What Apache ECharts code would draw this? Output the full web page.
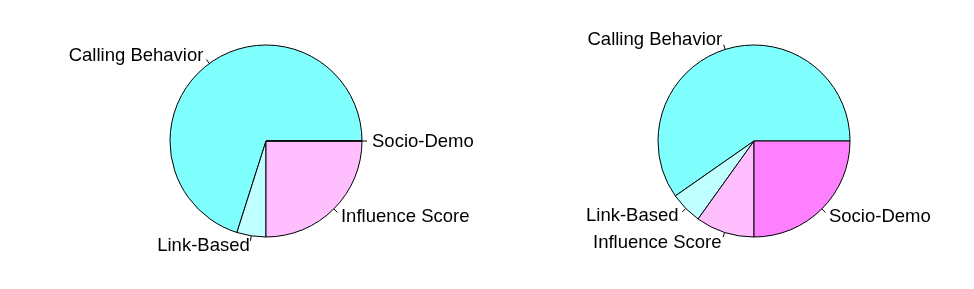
<!DOCTYPE html>
<html>
<head>
<meta charset="utf-8">
<script src="https://cdn.jsdelivr.net/npm/echarts@6/dist/echarts.min.js"></script>
<style>
html,body{margin:0;padding:0;background:#fff;}
#chart{width:974px;height:289px;}
</style>
</head>
<body>
<div id="chart"></div>
<script>
const categories = ['Calling Behavior', 'Link-Based', 'Influence Score', 'Socio-Demo'];
const leftValues = [70.1, 4.9, 25.0, 0];
const rightValues = [59.7, 5.4, 9.9, 25.0];
const sliceColors = ['#80FFFF', '#BFFFFF', '#FFBFFF', '#FF80FF'];

// R-style label placement: tick from r to 1.05r, text anchored at 1.1r
function rStyleLabel(params) {
  const pts = params.labelLinePoints;
  if (!pts || pts.length < 2) return {};
  const x1 = pts[0][0], y1 = pts[0][1];
  const x2 = pts[1][0], y2 = pts[1][1];
  const dx = x2 - x1, dy = y2 - y1;
  const tx = x1 + 2 * dx;
  const ty = y1 + 2 * dy + 0.5;
  const onRight = dx >= 0;
  return {
    x: tx,
    y: ty,
    align: onRight ? 'left' : 'right',
    verticalAlign: 'middle',
    labelLinePoints: [[x1, y1], [x2, y2], [x2, y2]]
  };
}

function makeSeries(values, center) {
  return {
    type: 'pie',
    center: center,
    radius: 96,
    startAngle: 0,
    clockwise: false,
    avoidLabelOverlap: false,
    stillShowZeroSum: true,
    silent: true,
    animation: false,
    emphasis: { disabled: true },
    itemStyle: { borderColor: '#000', borderWidth: 1 },
    label: {
      show: true,
      position: 'outside',
      formatter: '{b}',
      color: '#000',
      fontFamily: 'Liberation Sans, Arial, sans-serif',
      fontSize: 18.5,
      distanceToLabelLine: 5
    },
    labelLine: {
      show: true,
      length: 5,
      length2: 0,
      smooth: false,
      lineStyle: { color: '#000', width: 1 }
    },
    labelLayout: rStyleLabel,
    data: categories.map((c, i) => ({
      name: c,
      value: values[i],
      itemStyle: { color: sliceColors[i] }
    }))
  };
}

const chart = echarts.init(document.getElementById('chart'), null, { renderer: 'canvas' });
chart.setOption({
  backgroundColor: '#fff',
  animation: false,
  series: [
    makeSeries(leftValues, [266, 141]),
    makeSeries(rightValues, [754, 141])
  ]
});
</script>
</body>
</html>
